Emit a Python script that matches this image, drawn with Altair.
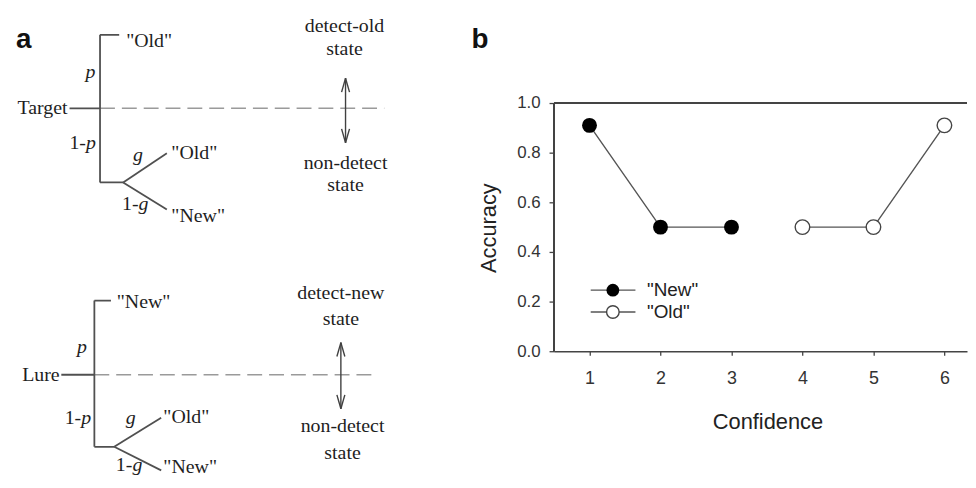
import altair as alt
import pandas as pd

# ---------------- panel b data ----------------
conf_new = [1, 2, 3]
acc_new = [0.91, 0.50, 0.50]
conf_old = [4, 5, 6]
acc_old = [0.50, 0.50, 0.91]
x_ticks = [1, 2, 3, 4, 5, 6]
y_ticks = [0.0, 0.2, 0.4, 0.6, 0.8, 1.0]
legend_labels = ['"New"', '"Old"']
x_title = "Confidence"
y_title = "Accuracy"

# ---------------- panel a text content ----------------
panel_labels = ["a", "b"]
tree1_words = ['"Old"', "Target", "p", "1-", "p", "g", "1-", "g", '"Old"', '"New"',
               "detect-old", "state", "non-detect", "state"]
tree2_words = ['"New"', "p", "Lure", "1-", "p", "g", '"Old"', "1-", "g", '"New"',
               "detect-new", "state", "non-detect", "state"]

# ---------------- layout (diagram geometry in page pixels) ----------------
A_W, A_H = 550, 472
B_W, B_H = 416, 344
PX_PER_X = 71.5
X_MAX = 0.5 + B_W / PX_PER_X
Y_MAX = B_H / 250.0

tree1_pos = [(127, 46, "left"), (68, 113.5, "right"), (91, 77, "icenter"),
             (86.5, 148.3, "right"), (86.5, 148.3, "ileft"), (139, 160, "icenter"),
             (139.5, 210, "right"), (139.5, 210, "ileft"), (172.5, 158, "left"),
             (172.5, 221.5, "left"), (347, 30, "center"), (347, 53.3, "center"),
             (348, 168.3, "center"), (348, 190.5, "center")]
tree2_pos = [(117.5, 308.3, "left"), (82.5, 354, "icenter"), (60, 381.7, "right"),
             (81.7, 425, "right"), (81.7, 425, "ileft"), (131.7, 425, "icenter"),
             (164.5, 424, "left"), (133.3, 473, "right"), (133.3, 473, "ileft"),
             (164.5, 475, "left"), (343.3, 299.3, "center"), (343.3, 326, "center"),
             (345, 433.3, "center"), (345, 460.7, "center")]
label_pos = [(16, 47, "bold"), (475, 46.7, "bold")]

words = tree1_words + tree2_words + panel_labels
poss = tree1_pos + tree2_pos + label_pos
text_df = pd.DataFrame({
    "x": [p[0] for p in poss],
    "y": [p[1] for p in poss],
    "text": words,
    "style": [p[2] for p in poss],
})

solid_segs = [
    # tree 1
    (70, 107.3, 100.7, 107.3), (100.7, 33.3, 100.7, 182), (100.7, 33.3, 120, 33.3),
    (100.7, 182, 124, 182), (124, 182, 168, 152.7), (124, 182, 168, 209.3),
    # tree 2
    (61.7, 375.7, 95, 375.7), (95, 301, 95, 448.3), (95, 301, 111.7, 301),
    (95, 448.3, 115, 448.3), (115, 448.3, 162.3, 419), (115, 448.3, 162.3, 472),
]
dash_segs = [(100.7, 107.3, 387, 107.3), (95, 375.7, 380, 375.7)]
arrows = [(348, 77, 142), (343.3, 343.3, 410)]
arrow_segs = []
for ax, yt, yb in arrows:
    arrow_segs += [(ax, yt, ax, yb),
                   (ax - 4, yt + 14, ax, yt), (ax + 4, yt + 14, ax, yt),
                   (ax - 4, yb - 14, ax, yb), (ax + 4, yb - 14, ax, yb)]


def seg_df(segs):
    return pd.DataFrame({"x": [s[0] for s in segs], "y": [s[1] for s in segs],
                         "x2": [s[2] for s in segs], "y2": [s[3] for s in segs]})


ax_sc = alt.Scale(domain=[8, 8 + A_W], nice=False, zero=False)
ay_sc = alt.Scale(domain=[8, 8 + A_H], nice=False, zero=False, reverse=True)


def seg_layer(df, **mk):
    return alt.Chart(df).mark_rule(clip=True, **mk).encode(
        x=alt.X("x:Q", scale=ax_sc, axis=None),
        y=alt.Y("y:Q", scale=ay_sc, axis=None),
        x2="x2:Q", y2="y2:Q")


def text_layer(style, **mk):
    return alt.Chart(text_df).transform_filter(alt.datum.style == style).mark_text(
        clip=True, baseline="alphabetic", **mk).encode(
        x=alt.X("x:Q", scale=ax_sc, axis=None),
        y=alt.Y("y:Q", scale=ay_sc, axis=None),
        text="text:N")


serif = dict(font="Liberation Serif", fontSize=20, color="#1e1e1e")
panel_a = alt.layer(
    seg_layer(seg_df(dash_segs), color="#9a9a9a", strokeWidth=1.4, strokeDash=[15, 7]),
    seg_layer(seg_df(solid_segs), color="#505050", strokeWidth=1.8),
    seg_layer(seg_df(arrow_segs), color="#404040", strokeWidth=1.4),
    text_layer("left", align="left", **serif),
    text_layer("right", align="right", **serif),
    text_layer("center", align="center", **serif),
    text_layer("icenter", align="center", fontStyle="italic", **serif),
    text_layer("ileft", align="left", fontStyle="italic", **serif),
    text_layer("bold", align="left", font="Liberation Sans", fontSize=28,
               fontWeight="bold", color="#111"),
).properties(width=A_W, height=A_H)

# ---------------- panel b ----------------
df_b = pd.DataFrame({
    "conf": conf_new + conf_old,
    "acc": acc_new + acc_old,
    "series": ["New"] * len(conf_new) + ["Old"] * len(conf_old),
})
xs = alt.Scale(domain=[0.5, X_MAX], nice=False, zero=False)
ys = alt.Scale(domain=[0, Y_MAX], nice=False, zero=False)

x_axis = alt.Axis(values=x_ticks, format="d", title=x_title, grid=False, labelAngle=0,
                  labelFont="Liberation Sans", labelFontSize=18, labelColor="#333",
                  labelPadding=15, tickSize=4, tickColor="#444", tickWidth=1.3,
                  domainColor="#444", domainWidth=1.5,
                  titleFont="Liberation Sans", titleFontSize=22, titleFontWeight="normal",
                  titleColor="#222", titleX=215, titleY=78, titleAlign="center",
                  titleBaseline="alphabetic")
y_axis = alt.Axis(values=y_ticks, format=".1f", title=y_title, grid=False, domain=False,
                  labelFont="Liberation Sans", labelFontSize=17, labelColor="#333",
                  labelPadding=9, tickSize=5, tickColor="#444", tickWidth=1.3,
                  titleFont="Liberation Sans", titleFontSize=22, titleFontWeight="normal",
                  titleColor="#222", titleAngle=270, titleX=-66, titleY=219.5,
                  titleAlign="center", titleBaseline="middle")

X = alt.X("conf:Q", scale=xs, axis=x_axis)
Y = alt.Y("acc:Q", scale=ys, axis=y_axis)

lines = alt.Chart(df_b).mark_line(color="#555", strokeWidth=1.4).encode(
    x=X, y=Y, detail="series:N")
pts_new = alt.Chart(df_b).transform_filter(alt.datum.series == "New").mark_circle(
    size=225, color="black", opacity=1).encode(x="conf:Q", y="acc:Q")
pts_old = alt.Chart(df_b).transform_filter(alt.datum.series == "Old").mark_circle(
    size=215, fill="white", stroke="#444", strokeWidth=1.4, opacity=1).encode(
    x="conf:Q", y="acc:Q")

frame_top = alt.Chart(df_b).mark_rule(color="#444", strokeWidth=1.5).encode(
    y=alt.datum(1.0))
frame_left = alt.Chart(df_b).mark_rule(color="#444", strokeWidth=1.5).encode(
    x=alt.datum(0.5), y=alt.datum(0.0), y2=alt.datum(1.0))

# legend drawn inside the plot
LEG_Y = [0.246, 0.158]
leg_df = pd.DataFrame({"acc": LEG_Y, "label": legend_labels, "series": ["New", "Old"]})
leg_lines = alt.Chart(leg_df).mark_rule(color="#555", strokeWidth=1.4).encode(
    x=alt.datum(1.017), x2=alt.datum(1.647), y="acc:Q")
leg_new = alt.Chart(leg_df).transform_filter(alt.datum.series == "New").mark_circle(
    size=165, color="black", opacity=1).encode(x=alt.datum(1.329), y="acc:Q")
leg_old = alt.Chart(leg_df).transform_filter(alt.datum.series == "Old").mark_circle(
    size=160, fill="white", stroke="#444", strokeWidth=1.4, opacity=1).encode(
    x=alt.datum(1.329), y="acc:Q")
leg_text = alt.Chart(leg_df).mark_text(align="left", baseline="middle",
                                       font="Liberation Sans", fontSize=19,
                                       color="#222").encode(
    x=alt.datum(1.81), y="acc:Q", text="label:N")

panel_b = alt.layer(lines, frame_top, frame_left, pts_new, pts_old,
                    leg_lines, leg_new, leg_old, leg_text).properties(width=B_W, height=B_H)

chart = alt.hconcat(panel_a, panel_b, spacing=0, bounds="flush").properties(
    padding=0).configure_view(strokeWidth=0)

chart.save("out.html", embed_options={"renderer": "svg", "actions": False})
